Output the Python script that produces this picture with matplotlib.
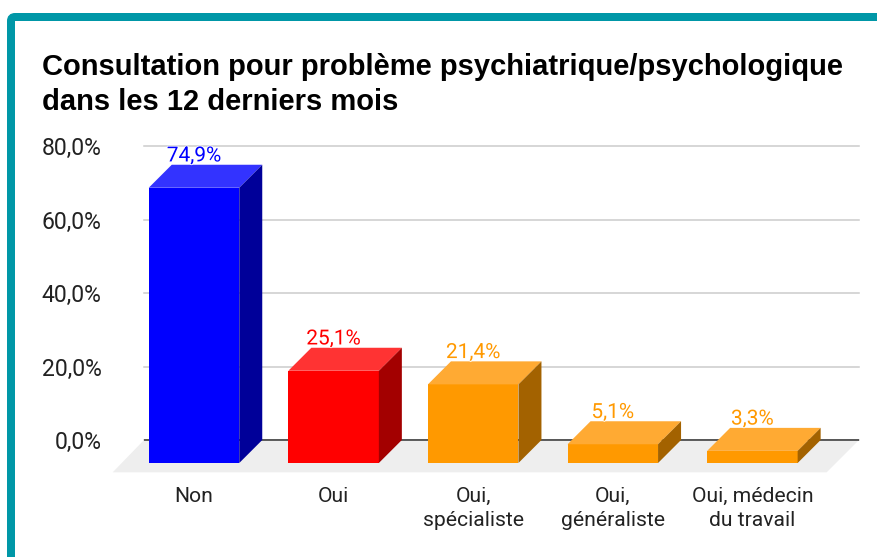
import matplotlib
matplotlib.use('Agg')
import matplotlib.pyplot as plt
import matplotlib.patheffects as pe
from matplotlib.patches import Polygon, FancyBboxPatch

# data
categories = ['Non', 'Oui', 'Oui,\nspécialiste', 'Oui,\ngénéraliste', 'Oui, médecin\ndu travail']
values = [74.9, 25.1, 21.4, 5.1, 3.3]
value_labels = ['74,9%', '25,1%', '21,4%', '5,1%', '3,3%']
y_ticks = [0, 20, 40, 60, 80]
y_tick_labels = ['0,0%', '20,0%', '40,0%', '60,0%', '80,0%']

front_colors = ['#0000ff', '#ff0000', '#ff9900', '#ff9900', '#ff9900']
top_colors = ['#3333ff', '#ff3333', '#ffaa33', '#ffaa33', '#ffaa33']
side_colors = ['#000099', '#a30000', '#a36200', '#a36200', '#a36200']
label_colors = ['#0000ff', '#ff0000', '#ff9900', '#ff9900', '#ff9900']

W, H = 877, 557
fig = plt.figure(figsize=(W / 100, H / 100), dpi=100)
fig.patch.set_facecolor('white')

# teal frame, runs off the right and bottom of the picture
frame = FancyBboxPatch((11 / 100, -0.5), (W + 100) / 100, (H - 17) / 100 + 0.5,
                       boxstyle='round,pad=0,rounding_size=0.04',
                       transform=fig.dpi_scale_trans, facecolor='white',
                       edgecolor='#0097a7', linewidth=5.76, zorder=-1)
fig.add_artist(frame)

fig.text(42 / W, 1 - 110 / H,
         'Consultation pour problème psychiatrique/psychologique\ndans les 12 derniers mois',
         family='Liberation Sans', fontweight='bold', fontsize=21, color='#000000',
         ha='left', va='baseline', linespacing=1.33)

# plot area in pixels
left, right, top, bottom = 144, 859, 146, 472.3
ax = fig.add_axes([left / W, 1 - bottom / H, (right - left) / W, (bottom - top) / H])
ax.patch.set_alpha(0)
for s in ax.spines.values():
    s.set_visible(False)

step = 139.6           # px per category
unit = 3.675           # px per percent
dx = 23 / step         # depth of the fake 3d
dy = 23 / unit
bw = 90.5 / step
floor = (bottom - 440) / unit

ax.set_xlim((left - 194) / step, (right - 194) / step)
ax.set_ylim(-floor, 80)

ax.set_yticks(y_ticks)
ax.set_yticklabels(y_tick_labels, family='Roboto', fontsize=16.6, color='#222222')
ax.set_xticks(range(len(categories)))
ax.set_xticklabels(categories, family='Roboto', fontsize=15.2, color='#222222', linespacing=1.34)
ax.tick_params(axis='y', length=0, pad=30.5)
ax.tick_params(axis='x', length=0, pad=10.5)

ax.grid(axis='y', color='#cccccc', linewidth=1.1)
ax.set_axisbelow(True)
for g in ax.get_ygridlines():
    g.set_clip_on(False)
ax.axhline(0, color='#333333', linewidth=1.1, zorder=2)

# grey floor
x0, x1 = ax.get_xlim()
ax.add_patch(Polygon([(x0, 0), (x1, 0), (x1 - 32.3 / step, -floor), (x0 - 31.3 / step, -floor)],
                     closed=True, facecolor='#eeeeee', edgecolor='none', zorder=1, clip_on=False))

for i, v in enumerate(values):
    l = i - bw / 2
    r = i + bw / 2
    ax.add_patch(Polygon([(l, -dy), (r, -dy), (r, v - dy), (l, v - dy)], closed=True,
                         facecolor=front_colors[i], edgecolor='none', zorder=3))
    ax.add_patch(Polygon([(l, v - dy), (r, v - dy), (r + dx, v), (l + dx, v)], closed=True,
                         facecolor=top_colors[i], edgecolor='none', zorder=3))
    ax.add_patch(Polygon([(r, -dy), (r + dx, 0), (r + dx, v), (r, v - dy)], closed=True,
                         facecolor=side_colors[i], edgecolor='none', zorder=3))
    ax.text(i, v + 0.9, value_labels[i], family='Roboto', fontsize=15, color=label_colors[i],
            ha='center', va='baseline', zorder=4,
            path_effects=[pe.withStroke(linewidth=1.2, foreground='white')])

fig.savefig('out.png', dpi=100)
